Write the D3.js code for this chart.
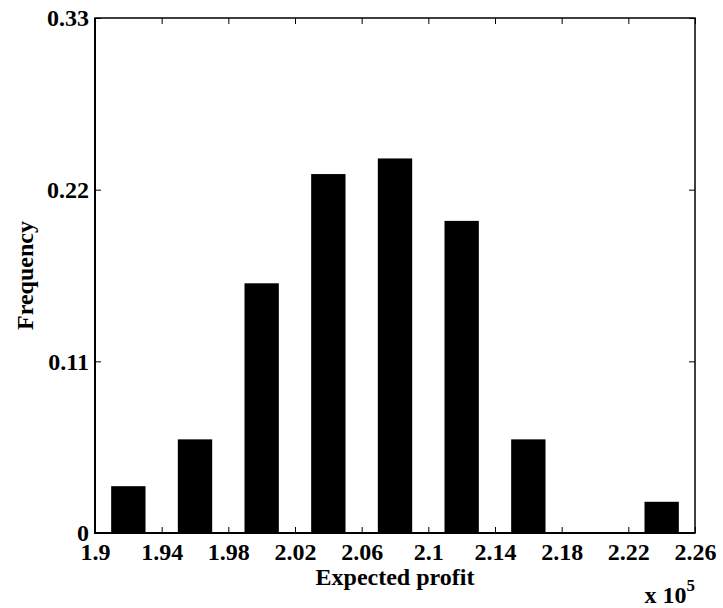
<!DOCTYPE html>
<html>
<head>
<meta charset="utf-8">
<script src="https://cdn.jsdelivr.net/npm/d3@7"></script>
<style>
  body { margin: 0; background: #fff; }
  svg text { font-family: "Liberation Serif", "Times New Roman", serif !important; }
</style>
</head>
<body>
<svg id="chart" width="723" height="608"></svg>
<script>
// bin centres (x 10^5) and relative frequencies
const binCenters = [1.92, 1.96, 2.00, 2.04, 2.08, 2.12, 2.16, 2.20, 2.24];
const frequencies = [0.03, 0.06, 0.16, 0.23, 0.24, 0.20, 0.06, 0, 0.02];
const xTicks = [1.9, 1.94, 1.98, 2.02, 2.06, 2.1, 2.14, 2.18, 2.22, 2.26];
const yTicks = [0, 0.11, 0.22, 0.33];
const barWidth = 0.0206;

const svg = d3.select('#chart');
const margin = { left: 95, right: 28, top: 18, bottom: 75 };
const width = 723 - margin.left - margin.right;
const height = 608 - margin.top - margin.bottom;

const x = d3.scaleLinear().domain([1.9, 2.26]).range([0, width]);
const y = d3.scaleLinear().domain([0, 0.33]).range([height, 0]);

const g = svg.append('g').attr('transform', `translate(${margin.left},${margin.top})`);

// bars
g.append('g')
    .selectAll('rect')
    .data(binCenters.map((c, i) => ({ c, f: frequencies[i] })))
    .enter().append('rect')
    .attr('x', d => x(d.c - barWidth / 2))
    .attr('width', d => x(d.c + barWidth / 2) - x(d.c - barWidth / 2))
    .attr('y', d => y(d.f))
    .attr('height', d => height - y(d.f))
    .attr('fill', '#000');

// inward ticks on all four sides
const tickLen = 6;
const fmt = d => String(d);

g.append('g').attr('transform', `translate(0,${height})`)
    .call(d3.axisBottom(x).tickValues(xTicks).tickFormat(fmt).tickSizeInner(-tickLen).tickSizeOuter(0).tickPadding(10));
g.append('g')
    .call(d3.axisTop(x).tickValues(xTicks).tickFormat('').tickSizeInner(-tickLen).tickSizeOuter(0));
const left = g.append('g')
    .call(d3.axisLeft(y).tickValues(yTicks).tickFormat(fmt).tickSizeInner(-tickLen).tickSizeOuter(0).tickPadding(6));
g.append('g').attr('transform', `translate(${width},0)`)
    .call(d3.axisRight(y).tickValues(yTicks).tickFormat('').tickSizeInner(-tickLen).tickSizeOuter(0));

g.selectAll('.domain').remove();
g.selectAll('.tick line').attr('stroke', '#000').attr('stroke-width', 1);
g.selectAll('.tick text')
    .attr('fill', '#000')
    .style('font-size', '24px')
    .style('font-weight', 'bold');
left.selectAll('.tick text').attr('dy', '0.32em');

// axes box
g.append('rect')
    .attr('x', 0).attr('y', 0)
    .attr('width', width).attr('height', height)
    .attr('fill', 'none')
    .attr('stroke', '#000')
    .attr('stroke-width', 1.5);
g.append('path')
    .attr('d', `M0,0V${height}H${width}`)
    .attr('fill', 'none')
    .attr('stroke', '#000')
    .attr('stroke-width', 2);

// labels
g.append('text')
    .attr('x', width / 2)
    .attr('y', height + 52)
    .attr('text-anchor', 'middle')
    .style('font-size', '24px')
    .style('font-weight', 'bold')
    .text('Expected profit');

g.append('text')
    .attr('transform', `translate(${-62},${height / 2}) rotate(-90)`)
    .attr('text-anchor', 'middle')
    .style('font-size', '24px')
    .style('font-weight', 'bold')
    .text('Frequency');

const mult = g.append('text')
    .attr('x', width)
    .attr('y', height + 70)
    .attr('text-anchor', 'end')
    .style('font-size', '24px')
    .style('font-weight', 'bold');
mult.append('tspan').text('x 10');
mult.append('tspan').attr('dy', -12).style('font-size', '17px').text('5');
</script>
</body>
</html>
